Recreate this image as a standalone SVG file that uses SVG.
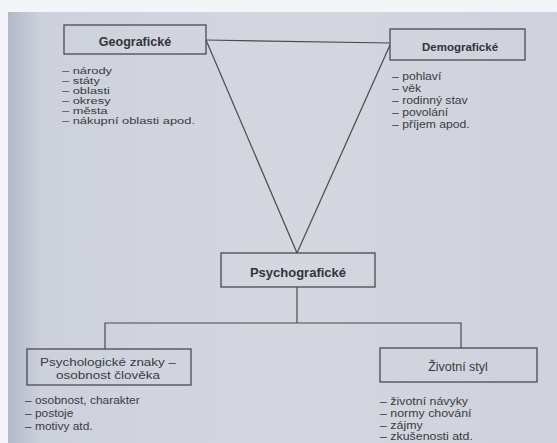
<svg xmlns="http://www.w3.org/2000/svg" width="557" height="443" viewBox="0 0 557 443">
<defs>
<linearGradient id="page" x1="0" y1="0" x2="1" y2="0">
<stop offset="0" stop-color="#b4b9c8"/>
<stop offset="0.06" stop-color="#cdd1dc"/>
<stop offset="0.5" stop-color="#d4d7e0"/>
<stop offset="1" stop-color="#cfd2dc"/>
</linearGradient>
<style>
.box{fill:none;stroke:#4a4a50;stroke-width:1.3}
.ttl{font-family:"Liberation Sans",Arial,sans-serif;font-weight:bold;fill:#333338;text-anchor:middle}
.lbl{font-family:"Liberation Sans",Arial,sans-serif;fill:#3a3a40;text-anchor:middle}
.li{font-family:"Liberation Sans",Arial,sans-serif;fill:#3a3a40}
.con{fill:none;stroke:#4a4a50;stroke-width:1.2}
</style>
</defs>
<rect width="557" height="443" fill="#f4f5f8"/>
<rect x="8" y="12" width="549" height="431" fill="url(#page)"/>
<g id="connectors">
<line class="con" x1="206" y1="40" x2="390" y2="43"/>
<line class="con" x1="206" y1="40" x2="297" y2="253"/>
<line class="con" x1="390" y1="45" x2="297" y2="253"/>
<line class="con" x1="297" y1="287" x2="297" y2="323"/>
<polyline class="con" points="105,349 105,323 461,323 461,348"/>
</g>
<g id="geograficke">
<rect class="box" x="64" y="25" width="142" height="29"/>
<text class="ttl" x="135" y="45.5" font-size="12.5">Geografické</text>
<g class="li" font-size="9" transform="translate(62,0) scale(1.43,1)">
<text x="0" y="74">– národy</text>
<text x="0" y="84.1">– státy</text>
<text x="0" y="94.2">– oblasti</text>
<text x="0" y="104.3">– okresy</text>
<text x="0" y="114.4">– města</text>
<text x="0" y="124.5">– nákupní oblasti apod.</text>
</g>
</g>
<g id="demograficke">
<rect class="box" x="390" y="29" width="135" height="31"/>
<text class="ttl" x="460" y="51" font-size="11.5">Demografické</text>
<g class="li" font-size="10.4" transform="translate(392,0) scale(1.17,1)">
<text x="0" y="80.5">– pohlaví</text>
<text x="0" y="92.2">– věk</text>
<text x="0" y="103.9">– rodinný stav</text>
<text x="0" y="116">– povolání</text>
<text x="0" y="127.7">– příjem apod.</text>
</g>
</g>
<g id="psychograficke">
<rect class="box" x="221" y="253" width="154" height="34"/>
<text class="ttl" x="298" y="276.5" font-size="13">Psychografické</text>
</g>
<g id="psychologicke">
<rect class="box" x="27" y="349" width="164" height="36"/>
<g class="lbl" font-size="11.5" transform="translate(108,0) scale(1.17,1)">
<text x="0" y="366.5">Psychologické znaky –</text>
<text x="0" y="379.5">osobnost člověka</text>
</g>
<g class="li" font-size="11" transform="translate(25,0) scale(1.085,1)">
<text x="0" y="404">– osobnost, charakter</text>
<text x="0" y="417">– postoje</text>
<text x="0" y="430">– motivy atd.</text>
</g>
</g>
<g id="zivotni-styl">
<rect class="box" x="380" y="348" width="157" height="34"/>
<text class="lbl" x="458" y="370.5" font-size="12.5">Životní styl</text>
<g class="li" font-size="10.5" transform="translate(380,0) scale(1.18,1)">
<text x="0" y="405">– životní návyky</text>
<text x="0" y="416.8">– normy chování</text>
<text x="0" y="428.6">– zájmy</text>
<text x="0" y="440.4">– zkušenosti atd.</text>
</g>
</g>
</svg>
